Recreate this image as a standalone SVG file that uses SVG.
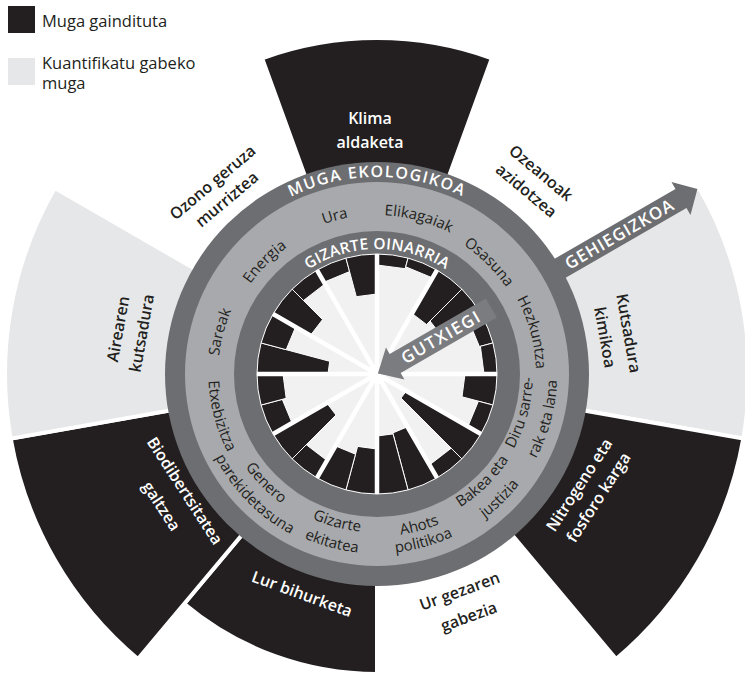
<svg xmlns="http://www.w3.org/2000/svg" width="745" height="674" viewBox="0 0 745 674">
<style>
.dk{fill:#231f20}
.lt{fill:#e6e7e8}
.sec{stroke:#fff;stroke-width:4;stroke-linejoin:miter}
.bar{fill:#231f20;stroke:#fff;stroke-width:1}
.ol{font-family:'Open Sans','Liberation Sans',sans-serif;font-weight:600;font-size:16px;text-anchor:middle}
.w{fill:#fff}
.b{fill:#231f20}
.rl{font-family:'Open Sans','Liberation Sans',sans-serif;font-size:15px;fill:#231f20}
.cap{font-family:'Open Sans','Liberation Sans',sans-serif;font-weight:600;fill:#fff}
.leg{font-family:'Open Sans','Liberation Sans',sans-serif;font-size:16.5px;fill:#231f20}
</style>
<defs>
<path id="p-muga" d="M180,374 A197,197 0 0 1 574,374"/>
<path id="p-giz" d="M252,374 A125,125 0 0 1 502,374"/>
<path id="p-ura" d="M223.4,415.2 A159,159 0 0 1 530.6,332.9"/>
<path id="p-elik" d="M223.4,332.9 A159,159 0 0 1 530.6,415.2"/>
<path id="p-osas" d="M264.6,261.6 A159,159 0 0 1 489.4,486.4"/>
<path id="p-hezk" d="M335.85,220.4 A159,159 0 0 1 418.15,527.6"/>
<path id="p-sar" d="M335.85,527.6 A159,159 0 0 1 418.15,220.4"/>
<path id="p-ener" d="M264.6,486.4 A159,159 0 0 1 489.4,261.6"/>
<path id="p-etx" d="M333,209.8 A170,170 0 0 0 421,538.2"/>
<path id="p-diru1" d="M336.1,526.6 A158,158 0 0 0 417.9,221.4"/>
<path id="p-diru2" d="M330.4,548 A180,180 0 0 0 423.6,200"/>
<path id="p-bak1" d="M264.9,484.1 A157,157 0 0 0 489.1,263.9"/>
<path id="p-bak2" d="M248.6,500.2 A180,180 0 0 0 505.4,247.8"/>
<path id="p-aho1" d="M220.4,417.5 A162.5,162.5 0 0 0 533.6,330.5"/>
<path id="p-aho2" d="M202.6,422.4 A181,181 0 0 0 551.4,325.6"/>
<path id="p-gi1" d="M220.1,331.9 A162.5,162.5 0 0 0 533.9,416.1"/>
<path id="p-gi2" d="M203.6,327.5 A179.5,179.5 0 0 0 550.4,420.5"/>
<path id="p-gen1" d="M264.2,259.1 A161,161 0 0 0 489.8,488.9"/>
<path id="p-gen2" d="M249.4,244.2 A182,182 0 0 0 504.6,503.8"/>
</defs>

<g id="legend">
<rect x="8" y="6" width="27" height="27" class="dk"/>
<text class="leg" x="42" y="26.5">Muga gaindituta</text>
<rect x="8" y="58" width="27" height="27" class="lt"/>
<text class="leg" x="42" y="68.5">Kuantifikatu gabeko</text>
<text class="leg" x="42" y="88.5">muga</text>
</g>

<g id="klima"><path class="dk sec" d="M377,374 L262.1,58.3 A336,336 0 0 1 491.9,58.3 Z"/></g>
<g id="kutsadura-kimikoa"><path class="lt sec" d="M377,374 L699.2,188 A372,372 0 0 1 743.3,438.6 Z"/></g>
<g id="nitrogeno"><path class="dk sec" d="M377,374 L743.3,438.6 A372,372 0 0 1 616.1,659 Z"/></g>
<g id="lur"><path class="dk sec" d="M377,374 L377,674 A300,300 0 0 1 184.2,603.8 Z"/></g>
<g id="biodibertsitatea"><path class="dk sec" d="M377,374 L137.9,659 A372,372 0 0 1 10.7,438.6 Z"/></g>
<g id="airearen"><path class="lt sec" d="M377,374 L10.7,438.6 A372,372 0 0 1 54.8,188 Z"/></g>

<g id="connectors">
<g id="gehiegizkoa" transform="translate(377,374) rotate(-30)">
<polygon points="200,-11 351,-11 351,-19 370,0 351,19 351,11 200,11" fill="#6d6e71"/>
<text class="cap" x="280" y="6" text-anchor="middle" font-size="17" letter-spacing="1">GEHIEGIZKOA</text>
</g>
</g>

<g id="rings">
<circle cx="377" cy="374" r="212" fill="#6d6e71"/>
<circle cx="377" cy="374" r="192" fill="#a7a9ac"/>
<circle cx="377" cy="374" r="143" fill="#6d6e71"/>
<circle cx="377" cy="374" r="120" fill="#f1f1f2"/>
<text class="cap" font-size="16" letter-spacing="1.5"><textPath href="#p-muga" startOffset="50%" text-anchor="middle">MUGA EKOLOGIKOA</textPath></text>
<text class="cap" font-size="15.5" letter-spacing="0.3"><textPath href="#p-giz" startOffset="50%" text-anchor="middle">GIZARTE OINARRIA</textPath></text>
</g>

<g id="bars">
<path class="bar" d="M324,282.2 L317,270.08 A120,120 0 0 1 345.94,258.09 L349.6,271.6 Z"/>
<path class="bar" d="M356.3,296.7 L345.94,258.09 A120,120 0 0 1 377,254 L377,294 Z"/>
<path class="bar" d="M377,265 L377,254 A120,120 0 0 1 408.06,258.09 L405.2,268.7 Z"/>
<path class="bar" d="M405.7,266.8 L408.06,258.09 A120,120 0 0 1 437,270.08 L432.5,277.9 Z"/>
<path class="bar" d="M412,313.4 L437,270.08 A120,120 0 0 1 461.85,289.15 L426.5,324.5 Z"/>
<path class="bar" d="M430,321 L461.85,289.15 A120,120 0 0 1 480.92,314 L442,336.5 Z"/>
<path class="bar" d="M468.8,321 L480.92,314 A120,120 0 0 1 492.91,342.94 L479.4,346.6 Z"/>
<path class="bar" d="M480.4,346.3 L492.91,342.94 A120,120 0 0 1 497,374 L484,374 Z"/>
<path class="bar" d="M465,374 L497,374 A120,120 0 0 1 492.91,405.06 L462,396.8 Z"/>
<path class="bar" d="M478.4,401.2 L492.91,405.06 A120,120 0 0 1 480.92,434 L467.9,426.5 Z"/>
<path class="bar" d="M406.4,391 L480.92,434 A120,120 0 0 1 461.85,458.85 L401,398 Z"/>
<path class="bar" d="M451.2,448.2 L461.85,458.85 A120,120 0 0 1 437,477.92 L429.5,464.9 Z"/>
<path class="bar" d="M407.5,426.8 L437,477.92 A120,120 0 0 1 408.06,489.91 L392.8,432.9 Z"/>
<path class="bar" d="M393,433.9 L408.06,489.91 A120,120 0 0 1 377,494 L377,436 Z"/>
<path class="bar" d="M377,449 L377,494 A120,120 0 0 1 345.94,489.91 L357.6,446.4 Z"/>
<path class="bar" d="M355.5,454.2 L345.94,489.91 A120,120 0 0 1 317,477.92 L335.5,445.9 Z"/>
<path class="bar" d="M327,460.6 L317,477.92 A120,120 0 0 1 292.15,458.85 L306.3,444.7 Z"/>
<path class="bar" d="M336,415 L292.15,458.85 A120,120 0 0 1 273.08,434 L326.8,403 Z"/>
<path class="bar" d="M292.1,423 L273.08,434 A120,120 0 0 1 261.09,405.06 L282.3,399.4 Z"/>
<path class="bar" d="M286.2,398.3 L261.09,405.06 A120,120 0 0 1 257,374 L283,374 Z"/>
<path class="bar" d="M328,374 L257,374 A120,120 0 0 1 261.09,342.94 L329.7,361.3 Z"/>
<path class="bar" d="M286.2,349.7 L261.09,342.94 A120,120 0 0 1 273.08,314 L295.6,327 Z"/>
<path class="bar" d="M310.3,335.5 L273.08,314 A120,120 0 0 1 292.15,289.15 L322.6,319.6 Z"/>
<path class="bar" d="M303.5,300.5 L292.15,289.15 A120,120 0 0 1 317,270.08 L325,283.9 Z"/>
<path fill="none" stroke="#fff" stroke-width="4.5" d="M377,374 L497,374 M377,374 L480.92,434 M377,374 L437,477.92 M377,374 L377,494 M377,374 L317,477.92 M377,374 L273.08,434 M377,374 L257,374 M377,374 L273.08,314 M377,374 L317,270.08 M377,374 L377,254 M377,374 L437,270.08 M377,374 L480.92,314"/>
</g>

<g id="gutxiegi" transform="translate(377,374) rotate(-30)">
<polygon points="1,0 21,-18.5 21,-11 132,-11 132,11 21,11 21,18.5" fill="#7b7c7f"/>
<text class="cap" x="74" y="6" text-anchor="middle" font-size="17" letter-spacing="1.5">GUTXIEGI</text>
</g>

<g id="social-labels">
<g id="ura"><text class="rl"><textPath href="#p-ura" startOffset="50%" text-anchor="middle">Ura</textPath></text></g>
<g id="elikagaiak"><text class="rl"><textPath href="#p-elik" startOffset="50%" text-anchor="middle">Elikagaiak</textPath></text></g>
<g id="osasuna"><text class="rl"><textPath href="#p-osas" startOffset="50%" text-anchor="middle">Osasuna</textPath></text></g>
<g id="hezkuntza"><text class="rl"><textPath href="#p-hezk" startOffset="50%" text-anchor="middle">Hezkuntza</textPath></text></g>
<g id="diru"><text class="rl"><textPath href="#p-diru1" startOffset="50%" text-anchor="middle">Diru sarre-</textPath></text><text class="rl"><textPath href="#p-diru2" startOffset="50%" text-anchor="middle">rak eta lana</textPath></text></g>
<g id="bakea"><text class="rl"><textPath href="#p-bak1" startOffset="50%" text-anchor="middle">Bakea eta</textPath></text><text class="rl"><textPath href="#p-bak2" startOffset="50%" text-anchor="middle">justizia</textPath></text></g>
<g id="ahots"><text class="rl"><textPath href="#p-aho1" startOffset="50%" text-anchor="middle">Ahots</textPath></text><text class="rl"><textPath href="#p-aho2" startOffset="50%" text-anchor="middle">politikoa</textPath></text></g>
<g id="gizarte-ekitatea"><text class="rl"><textPath href="#p-gi1" startOffset="50%" text-anchor="middle">Gizarte</textPath></text><text class="rl"><textPath href="#p-gi2" startOffset="50%" text-anchor="middle">ekitatea</textPath></text></g>
<g id="genero"><text class="rl"><textPath href="#p-gen1" startOffset="50%" text-anchor="middle">Genero</textPath></text><text class="rl"><textPath href="#p-gen2" startOffset="50%" text-anchor="middle">parekidetasuna</textPath></text></g>
<g id="etxebizitza"><text class="rl"><textPath href="#p-etx" startOffset="50%" text-anchor="middle">Etxebizitza</textPath></text></g>
<g id="sareak"><text class="rl"><textPath href="#p-sar" startOffset="50%" text-anchor="middle">Sareak</textPath></text></g>
<g id="energia"><text class="rl"><textPath href="#p-ener" startOffset="50%" text-anchor="middle">Energia</textPath></text></g>
</g>

<g id="outer-labels">
<text class="ol w"><tspan x="370" y="124">Klima</tspan><tspan x="370" y="148">aldaketa</tspan></text>
<text class="ol b" transform="translate(216.2,186.7) rotate(-40)"><tspan x="0" y="0">Ozono geruza</tspan><tspan x="0" y="22">murriztea</tspan></text>
<text class="ol b" transform="translate(537.4,177.2) rotate(40)"><tspan x="0" y="0">Ozeanoak</tspan><tspan x="0" y="23">azidotzea</tspan></text>
<text class="ol b" transform="translate(623.1,334.1) rotate(80)"><tspan x="0" y="0">Kutsadura</tspan><tspan x="0" y="24">kimikoa</tspan></text>
<text class="ol w" transform="translate(583.8,488) rotate(-57)"><tspan x="0" y="0">Nitrogeno eta</tspan><tspan x="0" y="23">fosforo karga</tspan></text>
<text class="ol b" transform="translate(461.5,596.4) rotate(-20)"><tspan x="0" y="0">Ur gezaren</tspan><tspan x="0" y="27">gabezia</tspan></text>
<text class="ol w" transform="translate(300.2,599.2) rotate(20)">Lur bihurketa</text>
<text class="ol w" transform="translate(180.2,493.9) rotate(57)"><tspan x="0" y="0">Biodibertsitatea</tspan><tspan x="0" y="28">galtzea</tspan></text>
<text class="ol b" transform="translate(123.6,330) rotate(-80)"><tspan x="0" y="0">Airearen</tspan><tspan x="0" y="24">kutsadura</tspan></text>
</g>
</svg>
